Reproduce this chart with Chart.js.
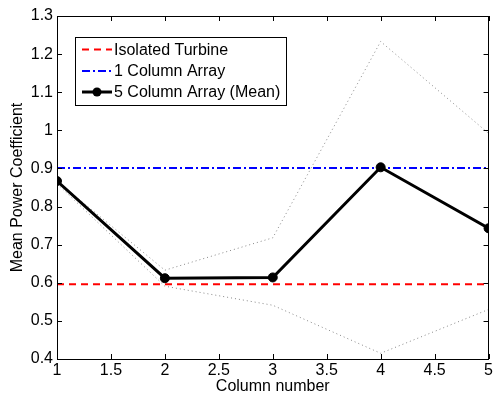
<!DOCTYPE html>
<html><head><meta charset="utf-8">
<script src="https://cdn.jsdelivr.net/npm/chart.js@4/dist/chart.umd.min.js"></script>
<style>html,body{margin:0;padding:0;background:#fff}canvas{display:block}</style>
</head><body>
<canvas id="c" width="495" height="396"></canvas>
<script>
const columns = [1, 2, 3, 4, 5];
const meanCp = [0.867, 0.612, 0.614, 0.903, 0.743];
const upperCp = [0.867, 0.633, 0.718, 1.233, 0.992];
const lowerCp = [0.860, 0.591, 0.541, 0.415, 0.530];
const isolatedCp = 0.596;
const oneColumnCp = 0.901;
const xTicks = [1, 1.5, 2, 2.5, 3, 3.5, 4, 4.5, 5];
const yTicks = [0.4, 0.5, 0.6, 0.7, 0.8, 0.9, 1.0, 1.1, 1.2, 1.3];
const legendLabels = ['Isolated Turbine', '1 Column Array', '5 Column Array (Mean)'];

const FONT = "'Liberation Sans', Arial, Helvetica, sans-serif";
const FS = 16;
const pts = arr => columns.map((c, i) => ({x: c, y: arr[i]}));
const flat = v => [{x: columns[0], y: v}, {x: columns[columns.length - 1], y: v}];

const frame = {
  id: 'frame',
  afterDatasetsDraw(chart) {
    const {ctx, chartArea: a, scales: {x, y}} = chart;
    ctx.save();
    ctx.strokeStyle = '#000';
    ctx.lineWidth = 1;
    ctx.beginPath();
    const L = 5;
    xTicks.forEach(t => {
      const px = Math.round(x.getPixelForValue(t)) + 0.5;
      ctx.moveTo(px, a.bottom); ctx.lineTo(px, a.bottom - L);
      ctx.moveTo(px, a.top); ctx.lineTo(px, a.top + L);
    });
    yTicks.forEach(t => {
      const py = Math.round(y.getPixelForValue(t)) + 0.5;
      ctx.moveTo(a.left, py); ctx.lineTo(a.left + L, py);
      ctx.moveTo(a.right, py); ctx.lineTo(a.right - L, py);
    });
    ctx.stroke();
    ctx.strokeRect(Math.round(a.left) + 0.5, Math.round(a.top) + 0.5, Math.round(a.right - a.left) - 1, Math.round(a.bottom - a.top));
    // legend
    const bx = 75.5, by = 37.5, bw = 211, bh = 68;
    ctx.fillStyle = '#fff';
    ctx.fillRect(bx, by, bw, bh);
    ctx.strokeRect(bx, by, bw, bh);
    const rows = [49.5, 71, 92];
    const ds = chart.data.datasets;
    [0, 1, 2].forEach(i => {
      const d = ds[i];
      const yy = rows[i];
      ctx.save();
      ctx.strokeStyle = d.borderColor;
      ctx.lineWidth = d.borderWidth;
      ctx.setLineDash(d.borderDash || []);
      ctx.beginPath();
      ctx.moveTo(82, yy); ctx.lineTo(112, yy);
      ctx.stroke();
      if (d.pointRadius > 0) {
        ctx.setLineDash([]);
        ctx.fillStyle = d.pointBackgroundColor;
        ctx.beginPath();
        ctx.arc(97, yy, d.pointRadius, 0, Math.PI * 2);
        ctx.fill();
      }
      ctx.restore();
      ctx.fillStyle = '#000';
      ctx.font = FS + 'px ' + FONT;
      ctx.textBaseline = 'middle';
      ctx.textAlign = 'left';
      ctx.fillText(legendLabels[i], 114, yy + 1);
    });
    ctx.restore();
  }
};

new Chart(document.getElementById('c'), {
  type: 'line',
  data: {
    datasets: [
      {label: legendLabels[0], data: flat(isolatedCp), borderColor: '#ff0000', borderWidth: 2, borderDash: [7, 5], pointRadius: 0, order: 3},
      {label: legendLabels[1], data: flat(oneColumnCp), borderColor: '#0000ff', borderWidth: 2, borderDash: [8, 3, 2, 3], pointRadius: 0, order: 2},
      {label: legendLabels[2], data: pts(meanCp), borderColor: '#000', borderWidth: 3, pointRadius: 4.5, pointBackgroundColor: '#000', pointBorderColor: '#000', pointBorderWidth: 1, order: 0},
      {label: 'upper', data: pts(upperCp), borderColor: '#888', borderWidth: 1, borderDash: [1, 3], pointRadius: 0, order: 4},
      {label: 'lower', data: pts(lowerCp), borderColor: '#888', borderWidth: 1, borderDash: [1, 3], pointRadius: 0, order: 4}
    ]
  },
  options: {
    responsive: false,
    animation: false,
    layout: {padding: {top: 16, right: 2, left: 0, bottom: 0}},
    plugins: {legend: {display: false}, tooltip: {enabled: false}},
    elements: {line: {tension: 0}},
    scales: {
      x: {
        type: 'linear', min: 1, max: 5,
        afterFit: s => { s.height = 37; },
        afterBuildTicks: s => { s.ticks = xTicks.map(v => ({value: v})); },
        grid: {display: false, drawTicks: false},
        border: {display: false},
        ticks: {color: '#000', font: {family: FONT, size: FS}, padding: 2, maxRotation: 0, autoSkip: false, callback: v => String(v)},
        title: {display: true, text: 'Column number', color: '#000', font: {family: FONT, size: FS}, padding: {top: 0, bottom: 0}}
      },
      y: {
        type: 'linear', min: 0.4, max: 1.3,
        afterFit: s => { s.width = 57; },
        afterBuildTicks: s => { s.ticks = yTicks.map(v => ({value: v})); },
        grid: {display: false, drawTicks: false},
        border: {display: false},
        ticks: {color: '#000', font: {family: FONT, size: FS}, padding: 4, autoSkip: false, callback: v => String(Number(v.toFixed(1)))},
        title: {display: true, text: 'Mean Power Coefficient', color: '#000', font: {family: FONT, size: FS}, padding: {top: 8, bottom: 0}}
      }
    }
  },
  plugins: [frame]
});
</script>
</body></html>
